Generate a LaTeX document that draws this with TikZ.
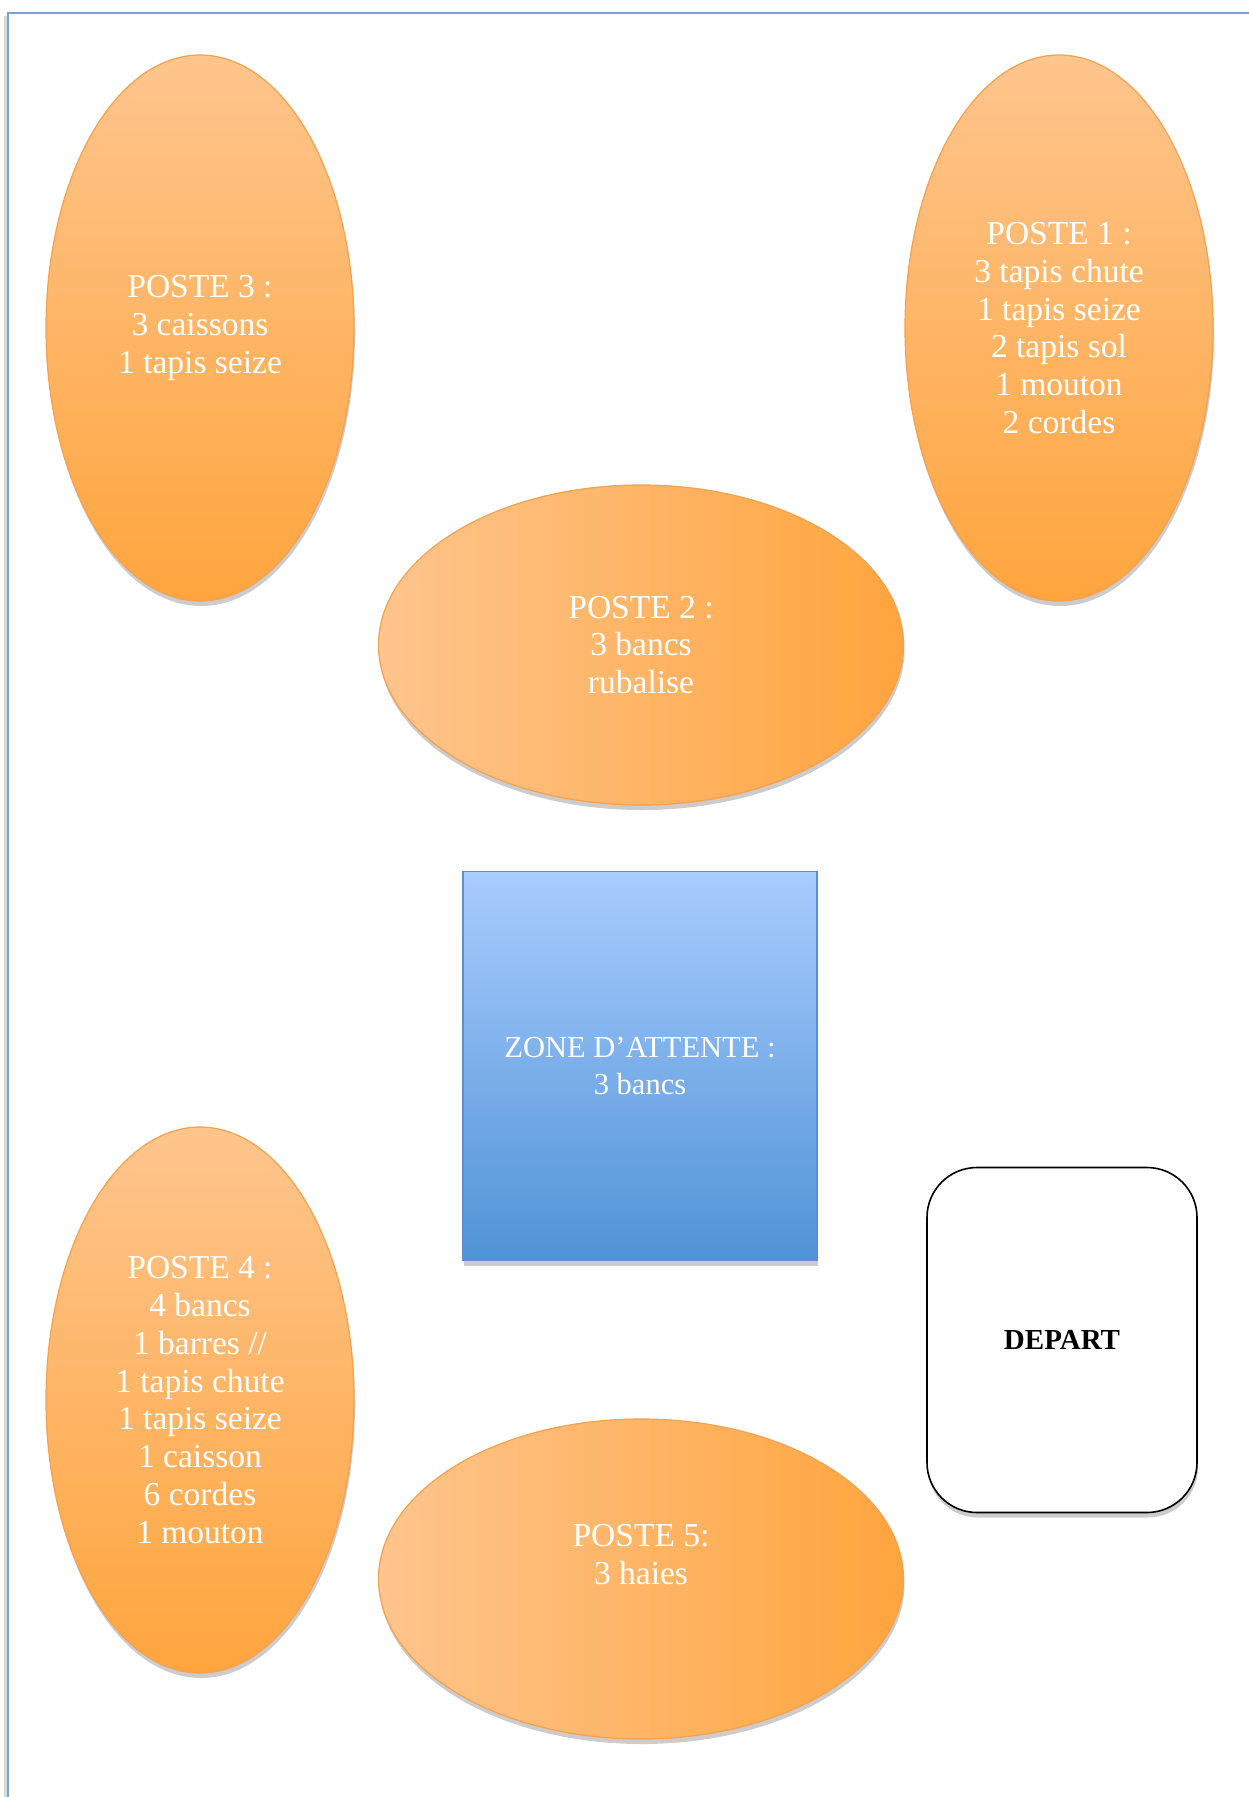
\documentclass[tikz,border=0pt]{standalone}
\usepackage{fontspec}
\setmainfont{Liberation Serif}
\usepackage{tikz}
\usetikzlibrary{shapes.geometric,shadows}

\definecolor{orangelight}{HTML}{FEC58D}
\definecolor{orangedark}{HTML}{FFA53E}
\definecolor{orangeline}{HTML}{F7A04E}
\definecolor{bluelight}{HTML}{A9CCFE}
\definecolor{bluedark}{HTML}{4F93D6}
\definecolor{blueline}{HTML}{5B8FCF}
\definecolor{framecol}{HTML}{78A2D8}

\begin{document}
\begin{tikzpicture}[x=1pt,y=-1pt,
    ombre/.style={drop shadow={shadow xshift=1pt,shadow yshift=-5pt,opacity=.4}},
    poste/.style={draw=orangeline,line width=1.2pt,ellipse,align=center,
      text=white,font=\fontsize{33.5}{37.8}\selectfont,ombre},
    haut/.style={poste,minimum width=308,minimum height=546,
      top color=orangelight,bottom color=orangedark},
    large/.style={poste,minimum width=525,minimum height=320,
      left color=orangelight,right color=orangedark}]
    \useasboundingbox (0,0) rectangle (1248,1797);
    \fill[white] (0,0) rectangle (1248,1797);
    % cadre de la page
    \draw[gray!30,line width=3pt] (5,1820) -- (5,16);
    \draw[framecol,line width=1.6pt] (8,1820) -- (8,13) -- (1270,13);

    \node[haut] (poste3) at (200,328) {POSTE 3 :\\3 caissons\\1 tapis seize};
    \node[haut] (poste1) at (1059,328) {POSTE 1 :\\3 tapis chute\\1 tapis
      seize\\2 tapis sol\\1 mouton\\2 cordes};
    \node[large] (poste2) at (641,645) {POSTE 2 :\\3 bancs\\rubalise};

    \node[draw=blueline,line width=1.2pt,rectangle,minimum width=354,
    minimum height=389,top color=bluelight,bottom color=bluedark,
    text=white,align=center,font=\fontsize{30.5}{37.8}\selectfont,ombre]
    (attente) at (640,1066) {ZONE D’ATTENTE :\\3 bancs};

    \node[haut] (poste4) at (200,1400) {POSTE 4 :\\4 bancs\\1 barres //\\1
      tapis chute\\1 tapis seize\\1 caisson\\6 cordes\\1 mouton};
    \node[large] (poste5) at (641,1579) {POSTE 5:\\3 haies\\\strut};

    \node[draw=black,line width=1.6pt,rectangle,rounded corners=50,fill=white,
    minimum width=270,minimum height=345,font=\fontsize{29}{34}\selectfont\bfseries,
    ombre] (depart) at (1062,1340) {DEPART};
  \end{tikzpicture}
\end{document}
